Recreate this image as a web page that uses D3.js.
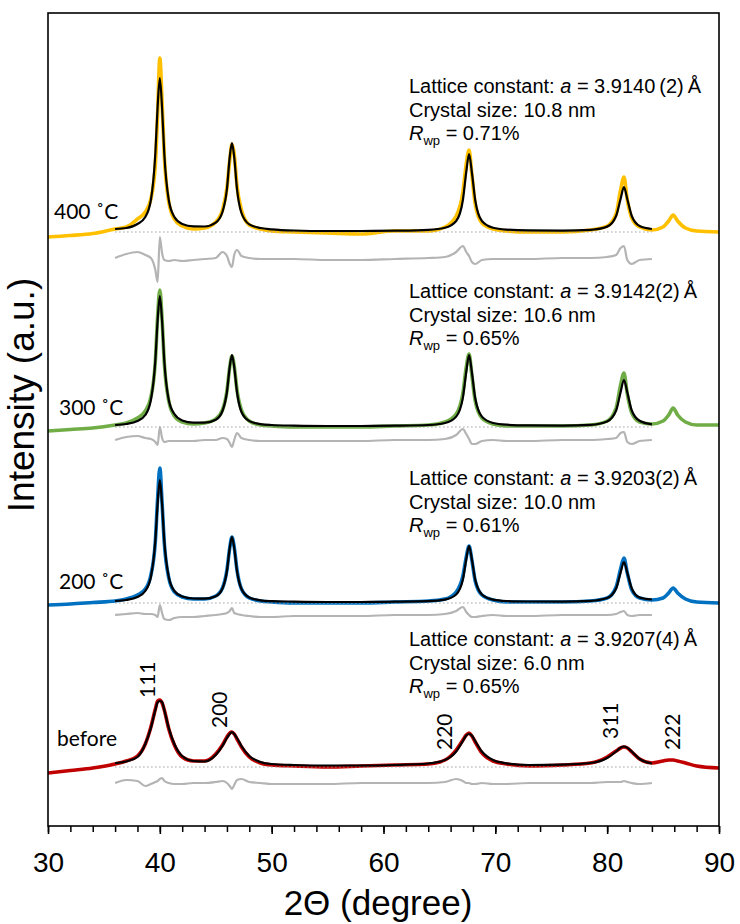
<!DOCTYPE html>
<html>
<head>
<meta charset="utf-8">
<script src="https://cdnjs.cloudflare.com/ajax/libs/d3/7.8.5/d3.min.js"></script>
<style>
body { margin: 0; background: #fff; }
</style>
</head>
<body>
<script>

// 2-theta grid of the observed patterns (degree)
var theta = [30, 32, 34, 36, 37, 38, 38.7, 39.2, 39.6, 39.8,
  40.0, 40.2, 40.4, 40.8, 41.3, 42, 43, 44, 45, 45.6,
  46.0, 46.25, 46.45, 46.65, 46.9, 47.3, 48, 49, 50, 52,
  55, 58, 61, 64, 65.5, 66.5, 67.1, 67.4, 67.65, 67.9,
  68.2, 68.8, 69.8, 71, 73, 76, 78.5, 80, 80.8, 81.2,
  81.5, 81.8, 82.2, 82.9, 84, 85, 85.5, 85.9, 86.3, 87,
  88, 90];

// the refinement covers 36 - 84 degree only
var fitTheta = theta.slice(3, 55);

var samples = ["before", "200 \u02DAC", "300 \u02DAC", "400 \u02DAC"];
var colors = ["#c00000", "#0070c0", "#70ad47", "#ffc000"];

// vertical offsets of each pattern (a.u.)
var obsOffset = [59, 223, 399, 594];
var diffOffset = [43, 211, 386, 568];

// observed intensity above offset
var obsBefore = [-6, -3.5, -1, 3, 6, 11, 23, 40, 58, 66,
  67, 64, 57, 38, 22, 10, 6, 6, 13, 22,
  30, 34, 35, 33, 28, 20, 10, 4, 2, 1,
  0, 1, 2, 3, 7, 17, 27, 32, 34, 31,
  25, 14, 6, 3, 1, 2, 4, 10, 16, 19,
  20, 19, 15, 8, 4, 6, 7, 7, 6, 4,
  1, -1];
var obs200 = [-2, -1, 0.5, 2, 4, 8, 14, 28, 62, 104,
  135, 100, 60, 25, 11, 6, 4, 4, 7, 15,
  33, 55, 66, 56, 33, 14, 5, 2, 1, 0,
  0, 0, 1, 2, 4, 11, 27, 46, 57, 43,
  22, 8, 3, 1, 1, 1, 2, 5, 16, 34,
  45, 30, 13, 5, 3, 5, 10, 15, 10, 4,
  1, 0];
var obs300 = [-4, -2.5, -1, 2, 4, 9, 16, 30, 66, 110,
  137, 108, 64, 26, 11, 5, 3, 4, 8, 17,
  36, 60, 71, 61, 37, 17, 6, 2, 1, 0,
  0, 0, 1, 2, 5, 13, 34, 60, 73, 52,
  26, 9, 3, 1, 1, 1, 2, 6, 19, 42,
  54, 33, 14, 5, 3, 6, 12, 19, 12, 5,
  2, 2];
var obs400 = [-5, -3.5, -1.5, 3, 5, 13, 20, 33, 68, 118,
  174, 130, 76, 30, 13, 6, 3, 4, 10, 22,
  44, 72, 88, 78, 46, 22, 7, 3, 1, 0,
  -1, -2, 1, 1, 5, 16, 40, 68, 82, 58,
  28, 9, 3, 1, 0, 0, 2, 6, 18, 42,
  55, 32, 14, 5, 2, 5, 11, 17, 11, 4,
  1, 0];

// refined (calculated) intensity
var fitBefore = [4, 5.5, 10, 23, 39, 57, 64.5, 66, 65, 57,
  39, 23, 11, 6, 5.5, 12, 21, 29, 33, 35,
  33, 29, 21, 11, 5, 3, 2, 1.5, 1.5, 2,
  3.5, 7, 15.5, 26, 31.5, 33, 31.5, 26, 15.5, 7,
  3.7, 2, 2.4, 4, 9, 15.5, 19.4, 20.5, 19.4, 15.5,
  8, 3.5];
var fit200 = [2, 3, 6, 12, 26, 63, 99, 123, 99, 62,
  26, 12, 6.5, 4.5, 4.3, 6.8, 14.5, 32, 55, 66,
  55, 32, 14, 5.5, 2.7, 1.9, 1.4, 1, 1, 1.3,
  1.8, 3.4, 8.5, 23.4, 43.8, 57, 43.8, 23.4, 8.5, 3.4,
  2, 1.5, 1.3, 2.1, 5, 14.5, 30.4, 41, 30.4, 14.5,
  5.5, 3.5];
var fit300 = [2, 3, 6, 12, 27, 67, 106, 131, 106, 66,
  27, 13, 6.6, 4.4, 4.3, 7.3, 16, 35, 60, 72,
  60, 35, 15, 5.9, 2.9, 2, 1.4, 1, 1, 1.3,
  2, 4, 10.4, 29.4, 55, 72, 55, 29, 10.4, 4,
  2.3, 1.6, 1.4, 2.2, 5.6, 16.5, 34.8, 47, 34.8, 16.5,
  6.2, 2.7];
var fit400 = [3, 4, 8, 15, 32, 79, 125, 154, 124, 78,
  32, 15, 8, 5.6, 5.5, 9.4, 20, 43, 75, 89,
  75, 43, 19, 7.6, 4, 2.7, 1.5, 1, 1, 1.3,
  2.2, 4.2, 11, 32, 60, 78, 60, 32, 11, 4.2,
  2.4, 1.6, 1.4, 2.2, 5.4, 16, 33, 45, 33, 16,
  6, 3];

// difference curves (obs - calc), drawn below each pattern
var diffBefore = [0, 3, 2, -3, -1, 1, 2, 4, 5, 2,
  0, -1, -1, 0, 0, 1, 2, 0, -3, -6,
  -2, 3, 4, 1, 0, -1, -1, -1, 0, 0,
  0, 1, 4, 2, 0, 0, -1, -1, 0, -1,
  -1, 0, 0, 0, 1, 1, 1, 2, 1, 0,
  -1, 0];
var diff200 = [0, 1, 2, 1, 1, 0, -2, 10, 2, -4,
  -5, -3, -2, -2, -1, 0, 1, 2, 4, 7,
  2, 1, 0, -1, -2, -2, -1, -1, -1, 0,
  0, 1, 4, 8, 3, 0, -2, -2, -1, 0,
  -1, -1, 0, 0, 0, 1, 3, 4, 0, -1,
  0, 0];
var diff300 = [0, 3, 4, 2, 1, -2, -5, 13, 2, -2,
  -1, -1, -1, -1, 0, 0, 2, 1, -3, -7,
  0, 7, 2, 0, -1, -1, -1, -1, -1, 0,
  0, 1, 5, 11, 6, 1, -4, -4, -1, 0,
  -1, -1, 0, 0, 1, 2, 7, 8, -2, -4,
  -1, 0];
var diff400 = [0, 4, 6, 3, 0, -12, -24, 21, 5, -2,
  -3, -2, -3, -2, -1, 0, 6, 2, -6, -9,
  3, 8, 2, 0, -1, -1, -1, -2, -2, -1,
  0, 1, 6, 12, 6, 2, -4, -6, -2, -1,
  -1, -1, 0, 0, 1, 3, 10, 12, -2, -6,
  -2, -1];

var latticeText = ["3.9207(4)\u2009\u00C5", "3.9203(2)\u2009\u00C5", "3.9142(2)\u2009\u00C5", "3.9140\u2009(2)\u2009\u00C5"];
var sizeText = ["6.0", "10.0", "10.6", "10.8"];
var rwpText = ["0.65", "0.61", "0.65", "0.71"];

var hklLabels = ["111", "200", "220", "311", "222"];
var hklTheta = [39.55, 46.0, 66.15, 81.0, 86.5];

var xTicks = [30, 40, 50, 60, 70, 80, 90];

var obsSeries = [obsBefore, obs200, obs300, obs400];
var fitSeries = [fitBefore, fit200, fit300, fit400];
var diffSeries = [diffBefore, diff200, diff300, diff400];

// ---------------------------------------------------------------

var width = 740, height = 924;
var plotLeft = 48, plotRight = 719, plotTop = 13, plotBottom = 826;

var svg = d3.select("body").append("svg")
  .attr("width", width)
  .attr("height", height);

var x = d3.scaleLinear().domain([30, 90]).range([plotLeft, plotRight]);
var y = d3.scaleLinear().domain([0, plotBottom - plotTop]).range([plotBottom, plotTop]);

var arial = "'Liberation Sans', Arial, sans-serif";
var labelFont = "Lato, 'Open Sans', sans-serif";

// label / annotation layout (pixel baselines)
var sampleLabelPos = [[57, 746], [59, 589], [59, 415], [54, 219]];
var noteBaseline = [646, 485, 298, 93];
var noteLeft = 409;
var hklBase = [698, 728, 750, 739, 750];

var plot = svg.append("g");

obsSeries.forEach(function (obs, i) {
  var line = d3.line()
    .x(function (d, k) { return x(theta[k]); })
    .y(function (d) { return y(obsOffset[i] + d); })
    .curve(d3.curveMonotoneX);

  var fitLine = d3.line()
    .x(function (d, k) { return x(fitTheta[k]); })
    .y(function (d) { return y(obsOffset[i] + d); })
    .curve(d3.curveMonotoneX);

  var diffLine = d3.line()
    .x(function (d, k) { return x(fitTheta[k]); })
    .y(function (d) { return y(diffOffset[i] + d); })
    .curve(d3.curveMonotoneX);

  plot.append("path")
    .attr("d", diffLine(diffSeries[i]))
    .attr("fill", "none")
    .attr("stroke", "#b4b4b4")
    .attr("stroke-width", 2.2);

  plot.append("path")
    .attr("d", line(obs))
    .attr("fill", "none")
    .attr("stroke", colors[i])
    .attr("stroke-width", 3.6)
    .attr("stroke-linejoin", "round");

  plot.append("line")
    .attr("x1", x(fitTheta[0]))
    .attr("x2", x(fitTheta[fitTheta.length - 1]))
    .attr("y1", y(obsOffset[i]))
    .attr("y2", y(obsOffset[i]))
    .attr("stroke", "#a0a0a0")
    .attr("stroke-width", 1.2)
    .attr("stroke-dasharray", "1.5,2.5");

  plot.append("path")
    .attr("d", fitLine(fitSeries[i]))
    .attr("fill", "none")
    .attr("stroke", "#000")
    .attr("stroke-width", 2.2);

  svg.append("text")
    .attr("x", sampleLabelPos[i][0])
    .attr("y", sampleLabelPos[i][1])
    .attr("font-family", labelFont)
    .attr("font-size", 21)
    .text(samples[i]);

  var note = svg.append("g")
    .attr("font-family", arial)
    .attr("font-size", 20)
    .attr("fill", "#000");

  var t1 = note.append("text").attr("x", noteLeft).attr("y", noteBaseline[i]);
  t1.append("tspan").text("Lattice constant: ");
  t1.append("tspan").attr("font-style", "italic").text("a");
  t1.append("tspan").text(" = " + latticeText[i]);

  note.append("text")
    .attr("x", noteLeft)
    .attr("y", noteBaseline[i] + 24)
    .text("Crystal size: " + sizeText[i] + " nm");

  var t3 = note.append("text").attr("x", noteLeft).attr("y", noteBaseline[i] + 47);
  t3.append("tspan").attr("font-style", "italic").text("R");
  t3.append("tspan").attr("font-size", 13).attr("dy", 5).text("wp");
  t3.append("tspan").attr("dy", -5).text(" = " + rwpText[i] + "%");
});

// hkl labels on the "before" pattern
svg.selectAll(".hkl")
  .data(hklLabels)
  .enter()
  .append("text")
  .attr("class", "hkl")
  .attr("transform", function (d, k) { return "translate(" + x(hklTheta[k]) + "," + hklBase[k] + ") rotate(-90)"; })
  .attr("font-family", labelFont)
  .attr("font-size", 21)
  .text(function (d) { return d; });

// frame
svg.append("rect")
  .attr("x", plotLeft)
  .attr("y", plotTop)
  .attr("width", plotRight - plotLeft)
  .attr("height", plotBottom - plotTop)
  .attr("fill", "none")
  .attr("stroke", "#000")
  .attr("stroke-width", 1.6);

// bottom axis: minor ticks every 2 degree, labels every 10
var minor = svg.append("g")
  .attr("transform", "translate(0," + plotBottom + ")")
  .call(d3.axisBottom(x).ticks(30).tickSize(6).tickFormat(""));
minor.select(".domain").remove();
minor.selectAll("line").attr("stroke-width", 1.5);

var major = svg.append("g")
  .attr("transform", "translate(0," + plotBottom + ")")
  .call(d3.axisBottom(x).tickValues(xTicks).tickSize(8).tickPadding(18).tickFormat(d3.format("d")));
major.select(".domain").remove();
major.selectAll("line").attr("stroke-width", 1.6);
major.selectAll("text")
  .attr("font-family", arial)
  .attr("font-size", 28)
  .attr("fill", "#000");

svg.append("text")
  .attr("x", 378)
  .attr("y", 915)
  .attr("text-anchor", "middle")
  .attr("font-family", arial)
  .attr("font-size", 35)
  .text("2\u0398 (degree)");

svg.append("text")
  .attr("transform", "translate(34,395) rotate(-90)")
  .attr("text-anchor", "middle")
  .attr("font-family", arial)
  .attr("font-size", 37)
  .text("Intensity (a.u.)");

</script>
</body>
</html>
